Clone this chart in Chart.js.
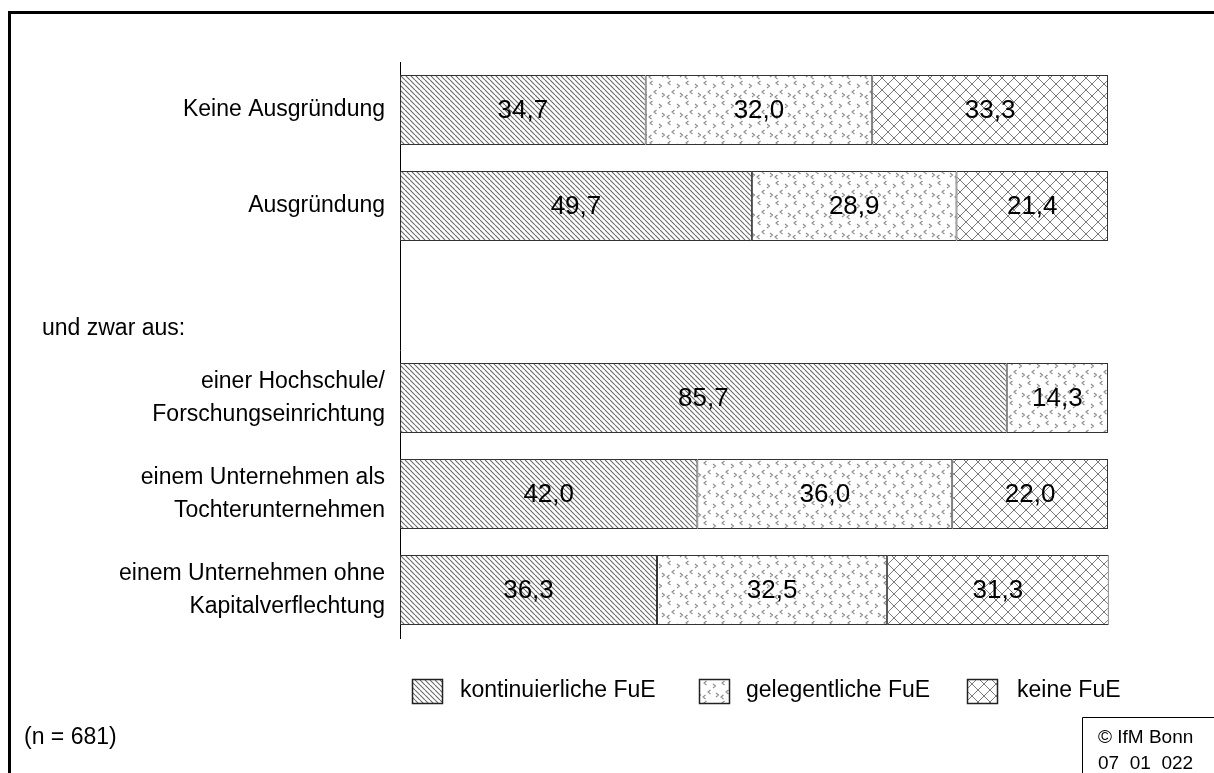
<!DOCTYPE html>
<html lang="de">
<head>
<meta charset="utf-8">
<title>FuE-Aktivitäten nach Ausgründung</title>
<script src="https://cdn.jsdelivr.net/npm/chart.js@4/dist/chart.umd.min.js"></script>
<style>
  html, body { margin: 0; padding: 0; background: #fff; }
  #wrap { width: 1214px; height: 773px; position: relative; }
</style>
</head>
<body>
<div id="wrap"><canvas id="chart" width="1214" height="773"></canvas></div>
<script>
'use strict';

// ─── Data ─────────────────────────────────────────────────────────────────────
const categories = [
  'Keine Ausgründung',
  'Ausgründung',
  '',
  ['einer Hochschule/', 'Forschungseinrichtung'],
  ['einem Unternehmen als', 'Tochterunternehmen'],
  ['einem Unternehmen ohne', 'Kapitalverflechtung'],
];
const seriesNames = ['kontinuierliche FuE', 'gelegentliche FuE', 'keine FuE'];
const kontinuierlich = [34.7, 49.7, null, 85.7, 42.0, 36.3];
const gelegentlich   = [32.0, 28.9, null, 14.3, 36.0, 32.5];
const keine          = [33.3, 21.4, null, 0, 22.0, 31.3];
const groupLabel = 'und zwar aus:';
const sampleNote = '(n = 681)';
const sourceNote = ['© IfM Bonn', '07  01  022'];

const FONT = '"Liberation Sans", Arial, sans-serif';

// ─── Patterns ─────────────────────────────────────────────────────────────────
function tile(w, h, draw) {
  const c = document.createElement('canvas');
  c.width = w; c.height = h;
  const g = c.getContext('2d');
  g.fillStyle = '#fff';
  g.fillRect(0, 0, w, h);
  draw(g);
  return g.createPattern(c, 'repeat');
}

const hatch = tile(5, 5, g => {
  g.strokeStyle = '#6a6a6a';
  g.lineWidth = 1.1;
  g.beginPath();
  for (const k of [-5, 0, 5]) { g.moveTo(k, 0); g.lineTo(k + 5, 5); }
  g.stroke();
});

const chevrons = tile(18, 20, g => {
  g.strokeStyle = '#8a8a8a';
  g.lineWidth = 1.1;
  const lt = (x, y) => { g.moveTo(x + 2.5, y); g.lineTo(x, y + 2); g.lineTo(x + 2.5, y + 4); };
  const gt = (x, y) => { g.moveTo(x, y); g.lineTo(x + 2.5, y + 2); g.lineTo(x, y + 4); };
  g.beginPath();
  lt(2, 1); gt(11, 4); lt(6, 10); gt(14, 13); lt(1, 15);
  g.stroke();
});

const diamonds = tile(12, 12, g => {
  g.strokeStyle = '#7a7a7a';
  g.lineWidth = 1;
  g.beginPath();
  g.moveTo(0, 0); g.lineTo(12, 12);
  g.moveTo(12, 0); g.lineTo(0, 12);
  g.stroke();
});

const fills = [hatch, chevrons, diamonds];

// ─── Plugins ──────────────────────────────────────────────────────────────────
const valueLabels = {
  id: 'valueLabels',
  afterDatasetsDraw(chart) {
    const ctx = chart.ctx;
    ctx.save();
    ctx.font = `26px ${FONT}`;
    ctx.fillStyle = '#000';
    ctx.textAlign = 'center';
    ctx.textBaseline = 'middle';
    chart.data.datasets.forEach((ds, di) => {
      chart.getDatasetMeta(di).data.forEach((bar, i) => {
        const v = ds.data[i];
        if (!v) return;
        ctx.fillText(v.toFixed(1).replace('.', ','), (bar.x + bar.base) / 2, bar.y + 1);
      });
    });
    ctx.restore();
  },
};

const extras = {
  id: 'extras',
  afterDraw(chart) {
    const ctx = chart.ctx;
    ctx.save();

    // frame
    ctx.strokeStyle = '#000';
    ctx.lineWidth = 3;
    ctx.beginPath();
    ctx.moveTo(9.5, 780);
    ctx.lineTo(9.5, 12.5);
    ctx.lineTo(1220, 12.5);
    ctx.stroke();

    // group label
    ctx.fillStyle = '#000';
    ctx.font = `23px ${FONT}`;
    ctx.textAlign = 'left';
    ctx.textBaseline = 'middle';
    ctx.fillText(groupLabel, 42, 329);

    // legend
    const legendBoxes = [412, 699, 967];
    const legendText = [460, 746, 1017];
    seriesNames.forEach((name, i) => {
      ctx.fillStyle = fills[i];
      ctx.fillRect(legendBoxes[i], 679, 30, 24);
      ctx.lineWidth = 1.5;
      ctx.strokeStyle = '#222';
      ctx.strokeRect(legendBoxes[i] + 0.5, 679.5, 30, 24);
      ctx.fillStyle = '#000';
      ctx.fillText(name, legendText[i], 691);
    });

    // footnotes
    ctx.fillText(sampleNote, 24, 738);
    ctx.lineWidth = 1;
    ctx.strokeStyle = '#000';
    ctx.beginPath();
    ctx.moveTo(1082.5, 780);
    ctx.lineTo(1082.5, 717.5);
    ctx.lineTo(1220, 717.5);
    ctx.stroke();
    ctx.font = `19px ${FONT}`;
    ctx.fillText(sourceNote[0], 1098, 738);
    ctx.fillText(sourceNote[1], 1098, 764);

    ctx.restore();
  },
};

// ─── Chart ────────────────────────────────────────────────────────────────────
const seriesValues = [kontinuierlich, gelegentlich, keine];

new Chart(document.getElementById('chart'), {
  type: 'bar',
  data: {
    labels: categories,
    datasets: seriesValues.map((vals, i) => ({
      label: seriesNames[i],
      data: vals,
      backgroundColor: fills[i],
      borderColor: '#333',
      borderWidth: 1,
      borderSkipped: false,
      categoryPercentage: 1,
      barPercentage: 0.73,
      clip: false,
    })),
  },
  options: {
    indexAxis: 'y',
    responsive: false,
    animation: false,
    layout: { padding: { left: 0, right: 106, top: 62, bottom: 135 } },
    plugins: {
      legend: { display: false },
      tooltip: { enabled: false },
    },
    scales: {
      x: { stacked: true, min: 0, max: 100, display: false },
      y: {
        stacked: true,
        grid: { display: false, drawTicks: false },
        border: { display: true, color: '#000', width: 1 },
        ticks: {
          color: '#000',
          padding: 15,
          font: { family: FONT, size: 23, lineHeight: 1.42 },
        },
        afterFit(scale) { scale.width = 400; },
      },
    },
  },
  plugins: [valueLabels, extras],
});
</script>
</body>
</html>
